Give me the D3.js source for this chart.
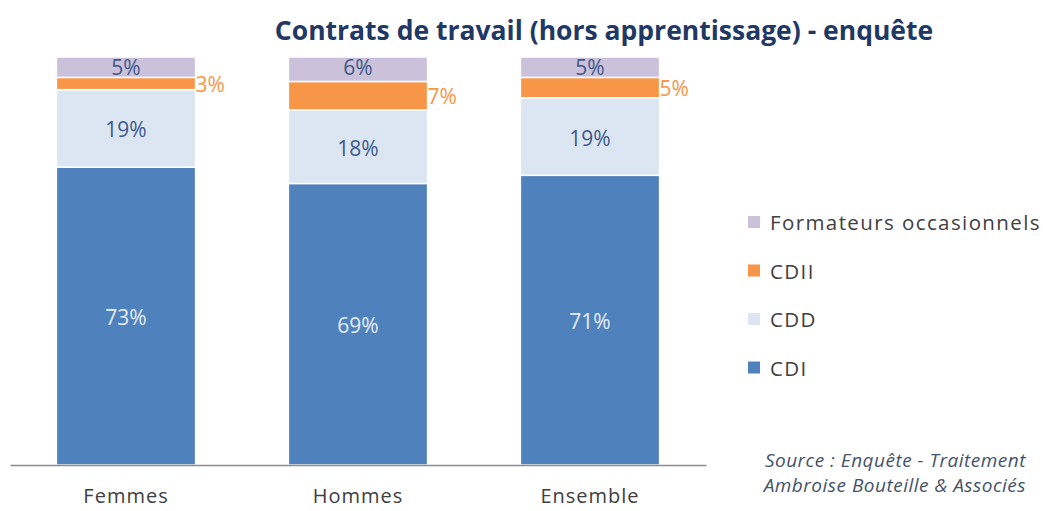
<!DOCTYPE html>
<html>
<head>
<meta charset="utf-8">
<script src="https://cdn.jsdelivr.net/npm/d3@7"></script>
<style>
  body { margin: 0; background: #fff; }
  svg { display: block; font-family: "Open Sans", "Liberation Sans", sans-serif; }
</style>
</head>
<body>
<div id="chart"></div>
<script>
const categories = ["Femmes", "Hommes", "Ensemble"];
const seriesNames = ["CDI", "CDD", "CDII", "Formateurs occasionnels"];
const cdi = [73, 69, 71];
const cdd = [19, 18, 19];
const cdii = [3, 7, 5];
const formateurs = [5, 6, 5];

const width = 1043, height = 511;
const colors = {
    "CDI": "#4f81bd",
    "CDD": "#dce6f2",
    "CDII": "#f79646",
    "Formateurs occasionnels": "#ccc1da"
};

const rows = categories.map((c, i) => ({
    cat: c,
    "CDI": cdi[i],
    "CDD": cdd[i],
    "CDII": cdii[i],
    "Formateurs occasionnels": formateurs[i]
}));

const stacked = d3.stack().keys(seriesNames)(rows);

const svg = d3.select("#chart").append("svg")
    .attr("width", width).attr("height", height);

const x = d3.scaleBand().domain(categories).range([10, 706])
    .paddingInner(0.4).paddingOuter(0.2);
const y = d3.scaleLinear().domain([0, 100]).range([465, 57]);

svg.append("text")
    .attr("x", 604).attr("y", 40)
    .attr("text-anchor", "middle")
    .attr("font-size", 26.5).attr("font-weight", "bold")
    .attr("fill", "#1f3864")
    .text("Contrats de travail (hors apprentissage) - enquête");

const layers = svg.append("g").selectAll("g")
    .data(stacked).enter().append("g")
    .attr("fill", d => colors[d.key]);

layers.selectAll("rect")
    .data(d => d)
    .enter().append("rect")
    .attr("x", d => x(d.data.cat))
    .attr("width", x.bandwidth())
    .attr("y", d => y(d[1]))
    .attr("height", d => y(d[0]) - y(d[1]))
    .attr("stroke", "#fff").attr("stroke-width", 1.5);

// labels
layers.each(function (layer) {
    const g = d3.select(this);
    g.selectAll("text")
        .data(layer)
        .enter().append("text")
        .attr("font-size", 21)
        .attr("fill", layer.key === "CDI" ? "#e6edf6" : layer.key === "CDII" ? "#f79646" : "#3c5a8a")
        .attr("text-anchor", layer.key === "CDII" ? "start" : "middle")
        .attr("x", d => layer.key === "CDII" ? x(d.data.cat) + x.bandwidth() : x(d.data.cat) + x.bandwidth() / 2)
        .attr("y", d => layer.key === "Formateurs occasionnels" ? y(d[1]) + 18 : (y(d[0]) + y(d[1])) / 2 + (layer.key === "CDII" ? 8 : 9))
        .text(d => (d[1] - d[0]) + "%");
});

// axis
const xAxis = svg.append("g")
    .attr("transform", `translate(0,${y(0)})`)
    .call(d3.axisBottom(x).tickSize(0).tickPadding(24));
xAxis.select(".domain").attr("stroke", "#8c8c8c").attr("stroke-width", 1.5);
xAxis.selectAll("text")
    .attr("font-size", 20).attr("fill", "#404040")
    .attr("font-family", "Open Sans, sans-serif")
    .attr("letter-spacing", "1px");

// legend
const legend = svg.append("g").selectAll("g")
    .data(seriesNames.slice().reverse())
    .enter().append("g")
    .attr("transform", (d, i) => `translate(748,${222 + i * 48.5})`);
legend.append("rect")
    .attr("x", 0).attr("y", -6).attr("width", 12).attr("height", 12)
    .attr("fill", d => colors[d]);
legend.append("text")
    .attr("x", 22).attr("y", 8)
    .attr("font-size", 20.5).attr("fill", "#404040")
    .attr("letter-spacing", "1.4px")
    .text(d => d);

// source
svg.append("g").selectAll("text")
    .data(["Source : Enquête - Traitement", "Ambroise Bouteille & Associés"])
    .enter().append("text")
    .attr("x", 1026).attr("y", (d, i) => 467 + i * 25)
    .attr("text-anchor", "end")
    .attr("font-size", 19).attr("font-style", "italic")
    .attr("letter-spacing", "0.5px")
    .attr("fill", "#44546a")
    .text(d => d);
</script>
</body>
</html>
